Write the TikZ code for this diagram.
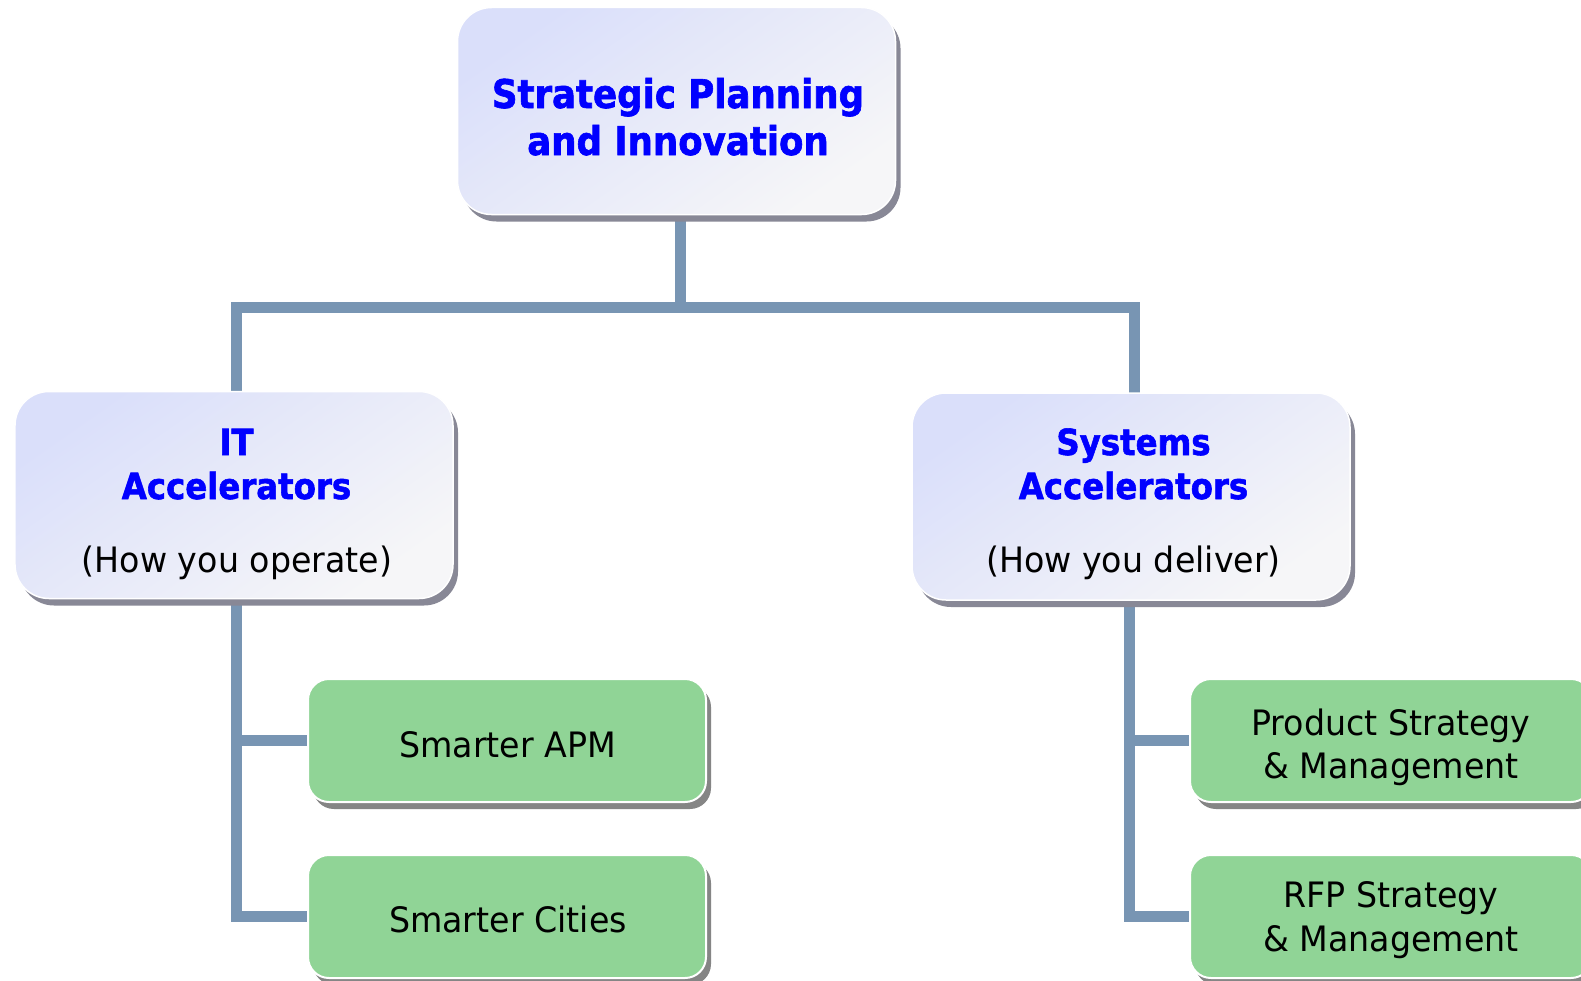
\documentclass[tikz,border=0pt]{standalone}
\usepackage{fontspec}
\usetikzlibrary{shadows,backgrounds}
\newfontfamily\regf{DejaVu Sans}[FakeStretch=0.95]
\newfontfamily\boldf{DejaVu Sans}[FakeStretch=0.9,BoldFeatures={FakeBold=1.6}]
\definecolor{conncol}{HTML}{7895B3}
\definecolor{lavA}{HTML}{DADFFA}
\definecolor{lavB}{HTML}{F6F6F8}
\definecolor{shadowgray}{HTML}{888896}
\definecolor{greenfill}{HTML}{90D496}
\definecolor{greenshadow}{HTML}{858585}
\definecolor{titleblue}{HTML}{0000FF}
\tikzset{
  conn/.style={draw=conncol,line width=11bp,line join=miter},
  bluebox/.style={rectangle,rounded corners=34bp,minimum width=438bp,minimum height=207bp,
    top color=lavA,bottom color=lavB,shading angle=35,draw=white,line width=1.5bp,
    drop shadow={shadow xshift=5bp,shadow yshift=-7bp,fill=shadowgray,opacity=1}},
  greenbox/.style={rectangle,rounded corners=21bp,minimum width=398bp,minimum height=123bp,
    fill=greenfill,draw=white,line width=2bp,
    drop shadow={shadow xshift=5bp,shadow yshift=-7bp,fill=greenshadow,opacity=1}},
  bigtitle/.style={inner sep=0pt,anchor=base,text=titleblue,font=\boldf\bfseries\fontsize{39.5bp}{46bp}\selectfont},
  midtitle/.style={inner sep=0pt,anchor=base,text=titleblue,font=\boldf\bfseries\fontsize{36bp}{43bp}\selectfont},
  plain/.style={inner sep=0pt,anchor=base,text=black,font=\regf\fontsize{35bp}{42bp}\selectfont}
}
\begin{document}
\begin{tikzpicture}[x=1bp,y=-1bp]
\useasboundingbox (0,0) rectangle (1581,980);
% boxes
\node[bluebox] (top) at (676.5,111) {};
\node[bluebox] (itacc) at (234,495) {};
\node[bluebox] (sysacc) at (1131,496.5) {};
\node[greenbox] (apm) at (507,740.5) {};
\node[greenbox] (cities) at (507,916.5) {};
\node[greenbox,minimum width=402bp] (product) at (1391,740.5) {};
\node[greenbox,minimum width=402bp] (rfp) at (1391,916.5) {};
% connectors (behind the boxes)
\begin{pgfonlayer}{background}
\fill[white] (0,0) rectangle (1581,980);
\coordinate (topdown) at ([xshift=3.5bp,yshift=4bp]top.south);
\coordinate (hub) at (topdown |- 0,307);
\coordinate (itup) at ([xshift=2bp,yshift=-4bp]itacc.north);
\coordinate (sysup) at ([xshift=3bp,yshift=-4bp]sysacc.north);
\coordinate (itdown) at ([xshift=2bp,yshift=4bp]itacc.south);
\coordinate (sysdown) at ([xshift=-2bp,yshift=4bp]sysacc.south);
\draw[conn] (topdown) -- (hub);
\draw[conn] (itup) |- (hub) -| (sysup);
\draw[conn] (itdown) |- (cities.west);
\draw[conn] (itdown |- apm.west) -- (apm.west);
\draw[conn] (sysdown) |- (rfp.west);
\draw[conn] (sysdown |- product.west) -- (product.west);
\end{pgfonlayer}
% texts
\node[bigtitle] (t1) at (678,108) {Strategic Planning};
\node[bigtitle] (t2) at (678,155) {and Innovation};
\node[midtitle] (it1) at (236.5,455) {IT};
\node[midtitle] (it2) at (236.5,499) {Accelerators};
\node[plain] (it3) at (237,572.5) {(How you operate)};
\node[midtitle] (sy1) at (1133.5,455) {Systems};
\node[midtitle] (sy2) at (1133.5,499) {Accelerators};
\node[plain] (sy3) at (1133.5,572.5) {(How you deliver)};
\node[plain] (apmt) at (507.5,757) {Smarter APM};
\node[plain] (citt) at (508,932) {Smarter Cities};
\node[plain] (pr1) at (1391,735) {Product Strategy};
\node[plain] (pr2) at (1391,778) {\& Management};
\node[plain] (rf1) at (1391,907) {RFP Strategy};
\node[plain] (rf2) at (1391,951) {\& Management};
\end{tikzpicture}
\end{document}
